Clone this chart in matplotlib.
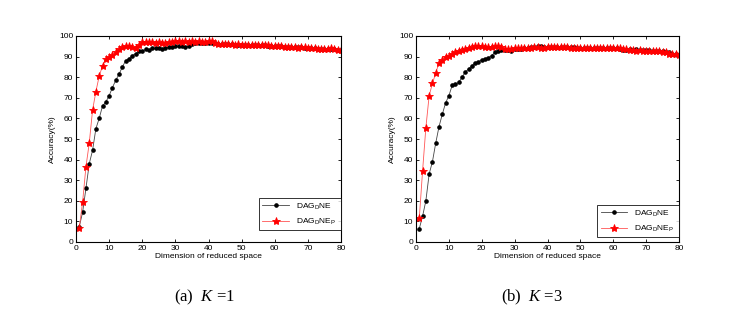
import matplotlib
matplotlib.use("Agg")
import matplotlib.pyplot as plt
import numpy as np

plt.rcParams['font.family'] = ['Liberation Sans', 'DejaVu Sans']
plt.rcParams['mathtext.fontset'] = 'custom'
plt.rcParams['mathtext.rm'] = 'Liberation Serif'
plt.rcParams['mathtext.it'] = 'Liberation Serif:italic'

dims = list(range(1, 81))

# K = 1
k1_dagdne = [7.5, 14.5, 26, 38, 44.5, 55, 60, 66, 68, 71,
             75, 78.5, 81.5, 85, 88, 89, 90.5, 91.5, 92.5, 92.5,
             93.5, 93, 94, 94, 94, 93.5, 94, 94.5, 94.5, 95,
             95, 95, 94.5, 95, 96, 96.5, 96.5, 96.5, 96.5, 96.5,
             96.5, 96.5, 96, 96, 96, 96, 96, 95.5, 95.5, 95.5,
             95.5, 95.5, 95.5, 95.5, 95.5, 95.5, 95.5, 95, 95, 95,
             95, 95, 94.5, 94.5, 94.5, 94.5, 94.5, 94.5, 94, 94,
             94, 94, 93.5, 93.5, 93.5, 93.5, 93.5, 93.5, 93, 93]
k1_dagdnep = [7, 19.5, 36.5, 48, 64, 73, 80.5, 85.5, 89, 90,
              91, 92, 93.5, 94.5, 95, 95, 94.5, 94, 95.5, 97,
              97, 97, 97, 96.5, 97, 96.5, 96.5, 97, 97, 97.5,
              97.5, 97, 97.5, 97, 97.5, 97, 97.5, 97, 97, 97.5,
              97.5, 96.5, 96, 96, 96, 96, 96, 95.5, 96, 95.5,
              95.5, 95.5, 95.5, 95.5, 95.5, 95.5, 95.5, 95.5, 95, 95,
              95, 95, 94.5, 94.5, 94.5, 94.5, 94, 94.5, 94.5, 94,
              94, 94, 93.5, 93.5, 93.5, 93.5, 94, 93.5, 93, 93]

# K = 3
k3_dagdne = [6.5, 12.5, 20, 33, 39, 48, 56, 62, 67.5, 71,
             76, 76.5, 77.5, 80, 82.5, 84, 85.5, 87, 87.5, 88.5,
             89, 89.5, 90.5, 92, 92.5, 93, 93, 93, 92.5, 93.5,
             93.5, 93.5, 94, 94, 94.5, 94.5, 95, 95, 94.5, 94.5,
             94.5, 94.5, 94.5, 94.5, 94.5, 94.5, 94.5, 94.5, 94, 94,
             94, 94, 94, 94, 94, 94, 94, 94, 94, 94,
             94, 93.5, 93, 93, 93.5, 93, 93.5, 93, 93, 93,
             93, 92.5, 92.5, 92.5, 92.5, 92, 92, 91.5, 91.5, 91]
k3_dagdnep = [11.5, 34.5, 55.5, 71, 77, 82, 87, 88.5, 90, 90.5,
              91.5, 92, 92.5, 93, 93.5, 94, 94.5, 95, 95, 95,
              94.5, 94.5, 94.5, 95, 95, 94.5, 93.5, 93.5, 93.5, 94,
              94, 94, 94, 94, 94, 94.5, 94.5, 94, 94, 94.5,
              94.5, 94.5, 94.5, 94.5, 94.5, 94.5, 94, 94, 94, 94,
              94, 94, 94, 94, 94, 94, 94, 94, 94, 94,
              94, 94, 93.5, 93.5, 93, 93, 92.5, 93, 92.5, 92.5,
              92.5, 92.5, 92.5, 92.5, 92, 92, 91.5, 91.5, 91.5, 91]

xticks = [0, 10, 20, 30, 40, 50, 60, 70, 80]
yticks = [0, 10, 20, 30, 40, 50, 60, 70, 80, 90, 100]

fig = plt.figure(figsize=(7.46, 3.30), dpi=100)
fig.patch.set_facecolor('white')

W, H = 746.0, 330.0
panels = [
    (76, 341, k1_dagdne, k1_dagdnep, (0.69, 0.058, 0.31, 0.156), '(a)', '$K$ =1', 204),
    (416, 679, k3_dagdne, k3_dagdnep, (0.69, 0.024, 0.31, 0.16), '(b)', '$K$ =3', 532),
]

for (x0, x1, blk, red, legbox, tag, klab, cx) in panels:
    ax = fig.add_axes([x0 / W, 1 - 242 / H, (x1 - x0) / W, 206 / H])
    ax.plot(dims, blk, color='#444444', lw=0.6, marker='o', ms=2.3,
            mfc='black', mec='black', label=r'DAG$_{\mathregular{D}}$NE')
    ax.plot(dims, red, color='#ff5555', lw=0.6, marker='*', ms=6,
            mfc='red', mec='red', mew=0.6,
            label=r'DAG$_{\mathregular{D}}$NE$_{\mathregular{P}}$')
    ax.set_xlim(0, 80)
    ax.set_ylim(0, 100)
    ax.set_xticks(xticks)
    ax.set_yticks(yticks)
    ax.tick_params(direction='in', length=2, width=0.6, labelsize=6,
                   top=True, right=True, pad=2)
    for s in ax.spines.values():
        s.set_linewidth(0.8)
    ax.set_xlabel('Dimension of reduced space', fontsize=6, labelpad=1)
    ax.set_ylabel('Accuracy(%)', fontsize=6, labelpad=2)
    leg = ax.legend(loc='lower left', bbox_to_anchor=legbox, mode='expand',
                    fontsize=6, frameon=True, fancybox=False,
                    edgecolor='black', borderpad=0.4, handlelength=3.2,
                    labelspacing=0.6, borderaxespad=0)
    leg.get_frame().set_linewidth(0.7)
    fig.text(cx / W, 1 - 297 / H, tag + '  ' + klab, ha='center', va='center',
             fontsize=12, family='Liberation Serif')

fig.savefig('out.png', dpi=100, facecolor='white')
